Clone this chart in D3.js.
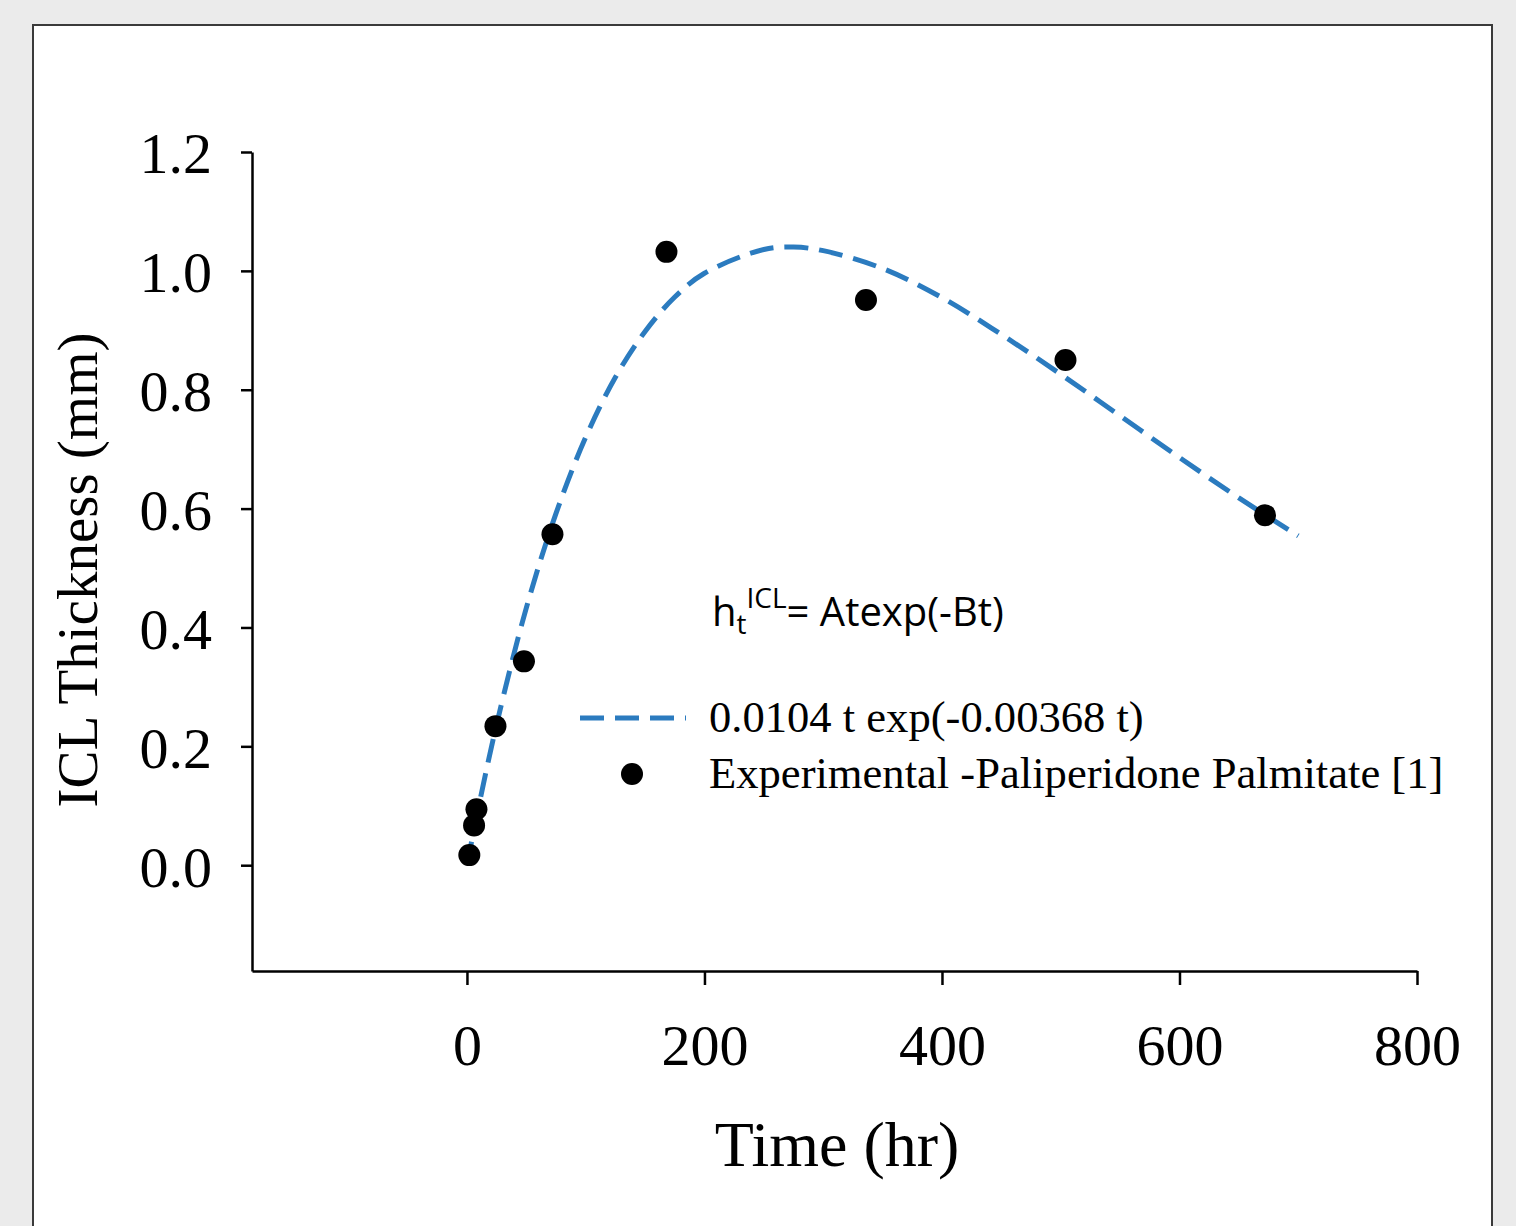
<!DOCTYPE html>
<html>
<head>
<meta charset="utf-8">
<script src="https://cdn.jsdelivr.net/npm/d3@7"></script>
<style>
  html, body { margin: 0; padding: 0; background: #ebebeb; }
  svg { display: block; }
</style>
</head>
<body>
<svg id="chart"></svg>
<script>
// experimental points (hr, mm)
const expTime = [2, 6, 8, 24, 48, 72, 168, 336, 504, 672];
const expThick = [0.017, 0.067, 0.094, 0.234, 0.343, 0.557, 1.032, 0.951, 0.850, 0.589];

// fitted curve
const fitTime = [0, 10, 25, 50, 75, 100, 125, 150, 175, 200, 250, 275, 300, 350, 400, 450, 500, 550, 600, 650, 700];
const fitThick = [0, 0.100, 0.237, 0.433, 0.592, 0.720, 0.821, 0.898, 0.956, 0.996, 1.036, 1.040, 1.034, 1.004, 0.955, 0.893, 0.826, 0.756, 0.686, 0.618, 0.554];

const xTicks = [0, 200, 400, 600, 800];
const yTicks = [0, 0.2, 0.4, 0.6, 0.8, 1.0, 1.2];

const fitLabel = "0.0104 t exp(-0.00368 t)";
const expLabel = "Experimental -Paliperidone Palmitate [1]";

const W = 1516, H = 1226;
const serif = "'Liberation Serif', 'Times New Roman', serif";
const blue = "#2b7bbf";

const svg = d3.select("#chart").attr("width", W).attr("height", H);

svg.append("rect")
    .attr("x", 33).attr("y", 25)
    .attr("width", 1459).attr("height", 1230)
    .attr("fill", "#fff")
    .attr("stroke", "#3a3a3a")
    .attr("stroke-width", 2);

const x = d3.scaleLinear().domain([-181, 800]).range([252, 1417]);
const y = d3.scaleLinear().domain([-0.178, 1.2]).range([971, 152]);

// axes
const yAxis = d3.axisLeft(y)
    .tickValues(yTicks)
    .tickFormat(d3.format(".1f"))
    .tickSize(11)
    .tickSizeOuter(0)
    .tickPadding(29);

const xAxis = d3.axisBottom(x)
    .tickValues(xTicks)
    .tickFormat(d3.format("d"))
    .tickSize(14)
    .tickSizeOuter(0);

const gy = svg.append("g")
    .attr("transform", "translate(252,0)")
    .call(yAxis);

const gx = svg.append("g")
    .attr("transform", "translate(0,971)")
    .call(xAxis);

[gx, gy].forEach(g => {
    g.select(".domain").attr("stroke", "#000").attr("stroke-width", 2.5);
    g.selectAll(".tick line").attr("stroke", "#000").attr("stroke-width", 2.5);
    g.selectAll(".tick text")
        .attr("fill", "#000")
        .style("font-family", serif)
        .style("font-size", "58px");
});
gy.selectAll(".tick text").attr("dy", "0.36em");
gx.selectAll(".tick text").attr("y", 94).attr("dy", 0);

// axis titles
svg.append("text")
    .attr("x", 837).attr("y", 1166)
    .attr("text-anchor", "middle")
    .style("font-family", serif)
    .style("font-size", "64px")
    .text("Time (hr)");

svg.append("text")
    .attr("transform", "translate(97,570) rotate(-90)")
    .attr("text-anchor", "middle")
    .style("font-family", serif)
    .style("font-size", "57px")
    .text("ICL Thickness (mm)");

// fitted curve
const fitData = fitTime.map((t, i) => ({ t: t, h: fitThick[i] }));
const line = d3.line()
    .x(d => x(d.t))
    .y(d => y(d.h))
    .curve(d3.curveCatmullRom);

svg.append("path")
    .datum(fitData)
    .attr("d", line)
    .attr("fill", "none")
    .attr("stroke", blue)
    .attr("stroke-width", 5)
    .attr("stroke-dasharray", "24,11");

// experimental points
const expData = expTime.map((t, i) => ({ t: t, h: expThick[i] }));
svg.append("g")
    .selectAll("circle")
    .data(expData)
    .join("circle")
    .attr("cx", d => x(d.t))
    .attr("cy", d => y(d.h))
    .attr("r", 11)
    .attr("fill", "#000");

// equation note
const note = svg.append("text")
    .attr("x", 712).attr("y", 626)
    .style("font-family", "'Open Sans', sans-serif")
    .style("font-size", "40px")
    .attr("fill", "#000");
note.append("tspan").text("h");
note.append("tspan").attr("dy", 8).style("font-size", "28px").text("t");
note.append("tspan").attr("dy", -26).style("font-size", "28px").text("ICL");
note.append("tspan").attr("dy", 18).text("= Atexp(-Bt)");

// legend
const legend = svg.append("g");
legend.append("line")
    .attr("x1", 580).attr("x2", 686)
    .attr("y1", 718).attr("y2", 718)
    .attr("stroke", blue)
    .attr("stroke-width", 5)
    .attr("stroke-dasharray", "24,11");
legend.append("text")
    .attr("x", 709).attr("y", 732)
    .style("font-family", serif)
    .style("font-size", "44.6px")
    .text(fitLabel);
legend.append("circle")
    .attr("cx", 632).attr("cy", 774)
    .attr("r", 11)
    .attr("fill", "#000");
legend.append("text")
    .attr("x", 709).attr("y", 788)
    .style("font-family", serif)
    .style("font-size", "44.6px")
    .text(expLabel);
</script>
</body>
</html>
